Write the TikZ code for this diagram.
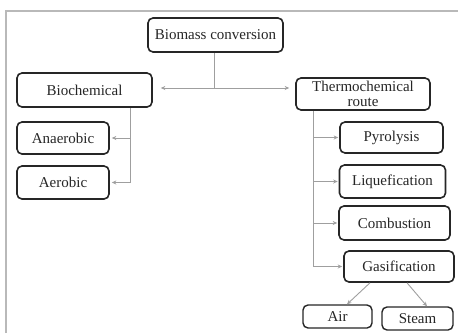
\documentclass[tikz,border=0pt]{standalone}
\usepackage{fontspec}
\setmainfont{Liberation Serif}
\usetikzlibrary{arrows.meta}
\begin{document}
\begin{tikzpicture}[x=1pt,y=-1pt,
  box/.style={draw=black!85, line width=1.6pt, rounded corners=5pt, inner sep=0pt,
    fill=white, text=black!85, font=\fontsize{15}{12}\selectfont, align=center},
  conn/.style={draw=gray!75, line width=0.9pt},
  tip/.style={-{Stealth[length=4.5pt,width=4pt]}}
]
\useasboundingbox (0,0) rectangle (458,333);
\draw[gray!55, line width=1.2pt] (6,333) -- (6,11) -- (458,11);

\node[box, minimum width=135pt, minimum height=34pt] (bio) at (215.5,35) {Biomass conversion};
\node[box, minimum width=135pt, minimum height=34pt] (biochem) at (84.5,90) {Biochemical};
\node[box, minimum width=134pt, minimum height=32pt, font=\fontsize{15}{14.5}\selectfont] (thermo) at (363,94) {Thermochemical\\route};
\node[box, minimum width=92pt, minimum height=32pt] (anaer) at (63,138) {Anaerobic};
\node[box, minimum width=92pt, minimum height=33pt] (aer) at (63,182.5) {Aerobic};
\node[box, minimum width=103pt, minimum height=31pt] (pyro) at (391.5,137.5) {Pyrolysis};
\node[box, minimum width=106pt, minimum height=33pt] (liq) at (392.5,181.5) {Liquefication};
\node[box, minimum width=111pt, minimum height=34pt] (comb) at (394.5,223) {Combustion};
\node[box, minimum width=110pt, minimum height=31pt] (gas) at (399,266.5) {Gasification};
\node[box, line width=1.4pt, minimum width=69pt, minimum height=23pt] (air) at (337.5,316.5) {Air};
\node[box, line width=1.4pt, minimum width=71pt, minimum height=23pt] (steam) at (417.5,318.5) {Steam};

% top split
\coordinate (j) at (214,88);
\draw[conn] (bio.south -| j) -- (j);
\draw[conn, {Stealth[length=4.5pt,width=4pt]}-{Stealth[length=4.5pt,width=4pt]}, shorten <=8pt, shorten >=6pt]
  (biochem.east |- j) -- (thermo.west |- j);

% biochemical branches
\coordinate (bv) at ([xshift=45.5pt]biochem.south);
\draw[conn, tip] (bv) |- ([xshift=2pt]aer.east);
\draw[conn, tip] (bv |- anaer.east) -- ([xshift=2pt]anaer.east);

% thermochemical branches
\coordinate (tv) at ([xshift=-50pt]thermo.south);
\draw[conn, tip] (tv) |- ([xshift=-1pt]gas.west);
\draw[conn, tip] (tv |- pyro.west) -- ([xshift=-1pt]pyro.west);
\draw[conn, tip] (tv |- liq.west) -- ([xshift=-1pt]liq.west);
\draw[conn, tip] (tv |- comb.west) -- ([xshift=-1pt]comb.west);

% gasification outputs
\draw[conn, tip] ([xshift=-29pt]gas.south) -- ([xshift=9.5pt]air.north);
\draw[conn, tip] ([xshift=8pt]gas.south) -- ([xshift=9.5pt]steam.north);
\end{tikzpicture}
\end{document}
